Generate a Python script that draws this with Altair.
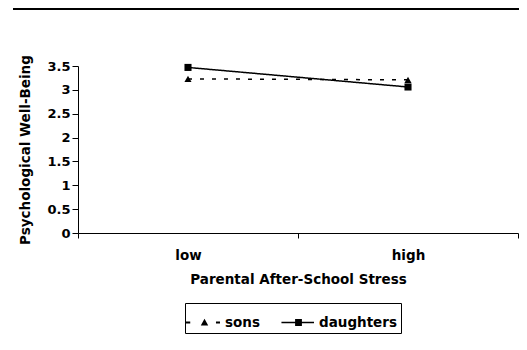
import altair as alt
import pandas as pd

stress_levels = ["low", "high"]
series_names = ["sons", "daughters"]
sons_values = [3.23, 3.21]
daughters_values = [3.47, 3.06]
y_ticks = [0, 0.5, 1, 1.5, 2, 2.5, 3, 3.5]

rows = []
for lvl, v in zip(stress_levels, sons_values):
    rows.append({"stress": lvl, "series": "sons", "value": v})
for lvl, v in zip(stress_levels, daughters_values):
    rows.append({"stress": lvl, "series": "daughters", "value": v})
df = pd.DataFrame(rows)

FONT = "DejaVu Sans"

x_enc = alt.X(
    "stress:N",
    sort=stress_levels,
    scale=alt.Scale(type="band", paddingInner=0, paddingOuter=0),
    axis=alt.Axis(
        title="Parental After-School Stress",
        labelAngle=0,
        tickBand="extent",
        tickSize=5,
        labelPadding=10,
        titlePadding=11,
        domainColor="black",
        tickColor="black",
        labelFontSize=13.5,
        titleFontSize=13.5,
    ),
)
y_enc = alt.Y(
    "value:Q",
    scale=alt.Scale(domain=[0, 3.5], nice=False),
    axis=alt.Axis(
        title="Psychological Well-Being",
        values=y_ticks,
        format="~g",
        tickSize=6,
        labelPadding=2,
        titlePadding=14,
        grid=False,
        domainColor="black",
        tickColor="black",
        labelFontSize=13,
        titleFontSize=13.5,
    ),
)

lines = alt.Chart(df).mark_line(color="black", strokeWidth=1.5).encode(
    x=x_enc,
    y=y_enc,
    strokeDash=alt.StrokeDash(
        "series:N",
        scale=alt.Scale(domain=series_names, range=[[4, 8], [1, 0]]),
        legend=None,
    ),
    detail="series:N",
)

points = alt.Chart(df).mark_point(filled=True, color="black", opacity=1, size=50).encode(
    x=x_enc,
    y=y_enc,
    shape=alt.Shape(
        "series:N",
        scale=alt.Scale(domain=series_names, range=["triangle-up", "square"]),
        legend=None,
    ),
)

sons_sym = (
    "M-1.2,-0.06H-0.92V0.06H-1.2Z "
    "M-0.24,0.2L0,-0.24L0.24,0.2Z "
    "M0.74,-0.06H1V0.06H0.74Z"
)
daughters_sym = (
    "M-1.1,-0.05H-0.2V0.05H-1.1Z "
    "M-0.22,-0.22H0.22V0.22H-0.22Z "
    "M0.2,-0.05H1V0.05H0.2Z"
)

legend_layer = (
    alt.Chart(df)
    .transform_filter("false")
    .mark_point(filled=True, color="black", size=961, opacity=1)
    .encode(
        x=x_enc,
        y=y_enc,
        shape=alt.Shape(
            "series:N",
            scale=alt.Scale(domain=series_names, range=[sons_sym, daughters_sym]),
            legend=alt.Legend(
                title=None,
                orient="none",
                legendX=107,
                legendY=237,
                direction="horizontal",
                strokeColor="black",
                padding=4,
                columnPadding=21,
                labelOffset=5,
                labelFontSize=13.5,
                labelFont=FONT,
                labelFontWeight="bold",
                labelColor="black",
                symbolSize=961,
                symbolFillColor="black",
                symbolStrokeWidth=0,
                symbolOpacity=1,
            ),
        ),
    )
)

top_rule = alt.Chart(pd.DataFrame({"a": [0]})).mark_rule(color="black", strokeWidth=2).encode(
    x=alt.value(-65), x2=alt.value(449), y=alt.value(-57)
)

chart = (
    alt.layer(lines, points, legend_layer, top_rule)
    .resolve_scale(shape="independent")
    .properties(
        width=440,
        height=167,
        autosize=alt.AutoSizeParams(type="none"),
        padding={"left": 70, "top": 58, "right": 1, "bottom": 117},
        background="white",
    )
    .configure_view(stroke=None)
    .configure_axis(
        labelFont=FONT,
        titleFont=FONT,
        labelFontWeight="bold",
        titleFontWeight="bold",
        labelColor="black",
        titleColor="black",
    )
)

chart.save("out.html", embed_options={"renderer": "svg", "actions": False})
